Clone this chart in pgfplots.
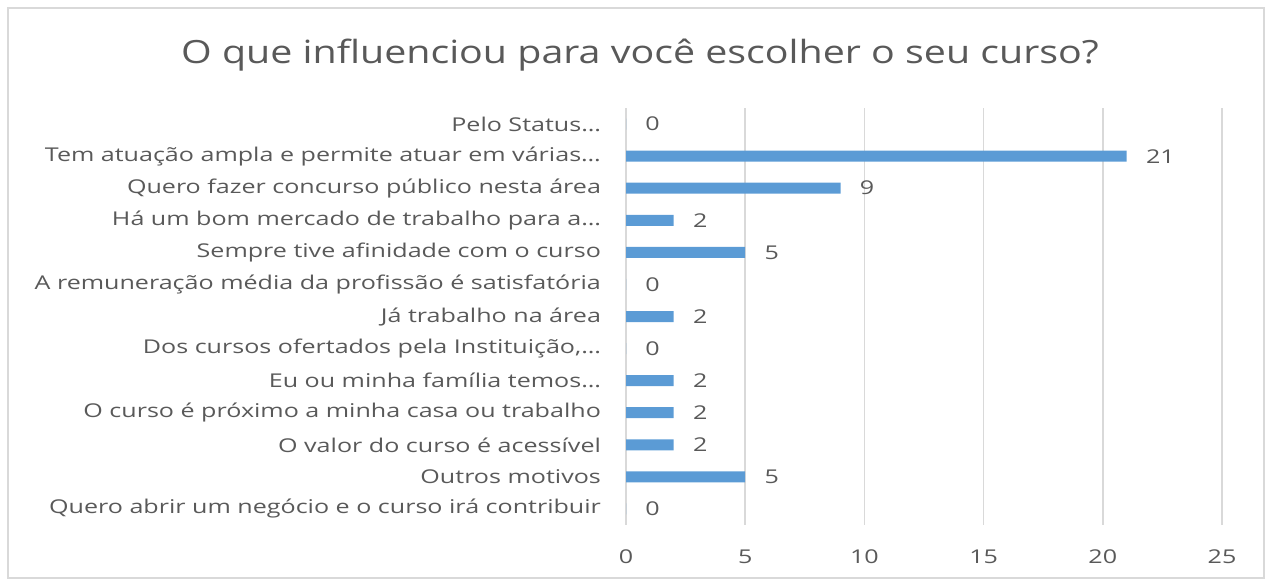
\documentclass[border=0pt]{standalone}
\usepackage{pgfplots}
\pgfplotsset{compat=1.18}
\usepackage{fontspec}
\setmainfont{Open Sans}
\newfontfamily\labelfont[FakeStretch=1.32]{Open Sans}
\newfontfamily\titlefont[FakeStretch=1.23]{Open Sans}
\definecolor{barblue}{HTML}{5B9BD5}
\definecolor{txtgray}{HTML}{595959}
\definecolor{gridgray}{HTML}{D9D9D9}
\begin{document}
\begin{tikzpicture}
\path[use as bounding box] (0,0) rectangle (636bp,-290.5bp);
\draw[gridgray, line width=1bp] (4bp,-4bp) rectangle (632bp,-289bp);
\node[txtgray, font=\titlefont\fontsize{16bp}{19bp}\selectfont] at (320bp,-27.5bp) {O que influenciou para você escolher o seu curso?};
\begin{axis}[
    at={(313bp,-262.5bp)}, anchor=south west,
    scale only axis,
    width=298bp, height=208.5bp,
    xbar, bar width=5.5bp,
    xmin=0, xmax=25,
    ymin=-0.5, ymax=12.5,
    y dir=reverse,
    xtick={0,5,10,15,20,25},
    ytick={0,1,2,3,4,5,6,7,8,9,10,11,12},
    yticklabels={{Pelo Status…}, {Tem atuação ampla e permite atuar em várias…}, {Quero fazer concurso público nesta área}, {Há um bom mercado de trabalho para a…}, {Sempre tive afinidade com o curso}, {A remuneração média da profissão é satisfatória}, {Já trabalho na área}, {Dos cursos ofertados pela Instituição,…}, {Eu ou minha família temos…}, {O curso é próximo a minha casa ou trabalho}, {O valor do curso é acessível}, {Outros motivos}, {Quero abrir um negócio e o curso irá contribuir}},
    axis line style={draw=none},
    major tick length=0,
    xmajorgrids, grid style={gridgray, line width=0.8bp},
    ticklabel style={txtgray, font=\labelfont\fontsize{9.5bp}{11bp}\selectfont},
    yticklabel style={xshift=-9bp},
    xticklabel style={yshift=-9bp},
    /pgf/number format/assume math mode=true,
    nodes near coords,
    every node near coord/.append style={txtgray, font=\labelfont\fontsize{9.5bp}{11bp}\selectfont, anchor=west, inner sep=0pt, xshift=9.5bp},
]
\addplot[fill=barblue, draw=none] coordinates {
(0,0) (21,1) (9,2) (2,3) (5,4) (0,5) (2,6) (0,7) (2,8) (2,9) (2,10) (5,11) (0,12)};
\end{axis}
\end{tikzpicture}
\end{document}
